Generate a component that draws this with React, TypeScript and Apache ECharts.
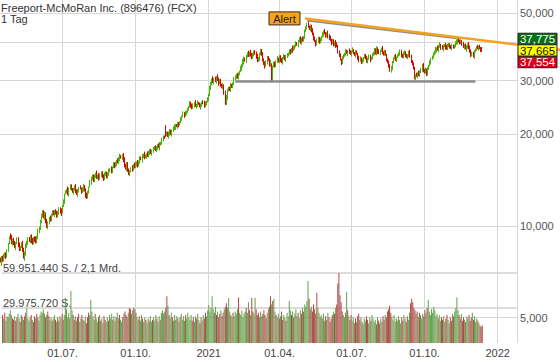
import React, { useEffect, useRef } from 'react';
import * as echarts from 'echarts';

// ---------- data ----------
const chartTitle = 'Freeport-McMoRan Inc. (896476) (FCX)';
const periodLabel = '1 Tag';
const startDate = '2020-04-14';
const categoryCount = 467; // weekdays shown on the time axis (data + empty space up to late Jan 2022)

const opens = [
  7.80, 7.55, 7.95, 7.75, 7.90, 8.15, 7.95, 8.30, 8.75, 9.40, 9.30, 8.70,
  9.05, 8.80, 8.50, 8.75, 9.10, 8.70, 8.35, 8.50, 8.80, 8.40, 7.80, 8.15,
  8.55, 8.80, 9.15, 8.85, 9.25, 9.05, 8.75, 9.20, 9.10, 8.80,
  9.25, 9.55, 9.85, 10.25, 10.80, 11.20, 10.60,
  11.00, 10.45, 9.85, 10.15, 10.75,
  10.45, 10.85, 11.15, 10.85, 11.30, 11.05, 10.70, 11.05, 11.45, 11.25, 11.05,
  11.65, 12.05, 12.75,
  12.85, 13.20, 12.75, 13.25, 13.55, 13.25, 12.85, 13.10, 13.45, 13.05, 12.70, 13.00, 13.45, 13.30, 12.90, 13.15, 13.50, 13.15, 12.80, 12.35,
  12.90, 13.45, 13.85, 14.25, 14.70, 14.15, 14.45, 14.90, 14.35,
  14.75, 14.25, 14.70, 15.05, 14.55, 14.30, 14.65, 15.00, 14.50,
  14.90, 15.15, 15.45, 15.05, 15.55, 16.00, 15.65, 16.05, 16.50, 16.15, 16.55, 17.00, 16.65,
  17.20, 16.55, 15.90, 15.35, 15.95, 15.30,
  14.70, 15.05, 15.60, 15.25, 15.90, 15.55, 15.90, 16.30,
  15.80, 16.25, 16.80, 16.45, 16.85, 17.20, 16.75,
  16.95, 17.30, 16.95, 17.35, 17.80, 17.25, 17.55, 17.85, 18.30, 17.75, 17.95, 18.50, 18.05, 18.45,
  18.75, 19.15, 19.70, 21.10, 19.85, 20.30, 19.75, 20.05, 20.50, 19.95, 20.55,
  20.85, 21.05, 21.50, 21.15, 21.70,
  21.45, 21.95, 22.35, 22.85, 23.40, 22.95, 23.45, 23.75,
  24.15, 24.55, 25.30, 24.85, 24.45, 24.95, 25.50, 24.65, 24.85, 25.40, 25.15, 24.55, 24.85, 25.60, 25.25, 24.75, 25.25,
  25.55, 26.15, 26.95, 28.35, 29.25, 30.40,
  29.55, 30.60, 29.75, 31.00, 30.25, 29.35, 30.10, 29.15, 28.55,
  29.00, 27.40, 25.10, 26.35, 27.75,
  28.50, 27.95, 28.95, 28.45,
  29.25, 30.15, 30.75, 31.50, 30.85, 31.55, 32.15,
  32.95, 33.75, 34.55, 35.50, 34.75, 36.05, 36.90, 36.15, 37.30,
  36.60, 35.55, 36.35, 37.60, 36.85, 36.00, 34.75, 35.45, 36.85,
  37.70, 36.50, 35.30, 34.20, 33.45, 34.55, 35.90, 35.00, 33.75,
  33.50, 30.20,
  33.35, 34.30, 33.55, 34.75, 35.50, 34.55, 36.00, 35.25, 34.35, 35.55, 36.20, 35.25, 35.75,
  36.35, 36.85, 37.70, 37.05, 38.30, 37.75,
  38.45, 38.95, 39.90, 39.15, 40.35, 41.10, 40.15, 41.40, 40.65,
  41.75, 43.45, 44.75, 46.20, 45.20, 44.15, 45.50, 43.70,
  42.50, 41.30, 40.50, 39.55, 40.75, 41.50, 40.15,
  40.85, 41.75, 42.55, 43.50, 42.90, 42.05, 43.10,
  41.95, 41.30, 40.70, 39.75, 40.60, 39.35, 40.20, 39.30,
  38.90, 37.50, 36.30, 35.20, 34.35, 35.75,
  36.25, 36.75, 37.50, 36.85, 37.70, 37.15, 36.55, 37.25, 37.90, 37.05, 36.45, 37.30,
  36.80, 35.70, 34.75, 35.40, 34.45, 35.05,
  35.65, 36.30, 35.50, 34.65, 35.45, 36.10, 35.15, 35.75,
  36.35, 37.05, 37.90, 36.85, 38.40, 37.45, 36.75, 37.45, 38.20, 37.25, 36.55, 37.40,
  36.50, 35.30, 34.60, 33.30, 32.35,
  33.10, 34.55, 35.35, 36.00, 35.25, 35.75,
  36.15, 36.75, 37.50, 36.55, 35.85, 36.55, 37.30, 36.35, 35.65, 36.35, 37.10,
  36.30, 34.70, 33.90,
  33.00, 30.55, 31.40, 30.95, 31.70, 31.15,
  32.05, 32.75, 33.60, 32.45, 31.75, 32.70, 31.45, 32.85,
  33.55, 34.35, 35.25, 35.85, 36.65, 37.35,
  37.85, 38.50, 37.75, 38.85, 39.40, 38.65, 38.05, 38.75, 39.50, 38.75, 38.15, 38.85, 39.60, 38.85, 38.25, 39.20, 38.55, 39.15,
  39.55, 40.25, 41.30, 40.70, 39.75,
  40.50, 39.45, 38.55, 39.30, 38.05, 38.75, 39.60,
  38.50, 37.25, 36.35, 37.10, 36.05, 37.35,
  37.95, 38.70, 38.15, 38.95, 38.45, 38.10,
];

const closes = [
  7.62, 7.85, 7.70, 7.95, 8.10, 7.90, 8.25, 8.70, 9.05, 9.20, 8.85, 8.95,
  8.70, 8.55, 8.80, 9.00, 8.65, 8.40, 8.55, 8.75, 8.30, 7.85, 8.20, 8.60,
  8.85, 9.05, 8.90, 9.15, 8.95, 8.80, 9.10, 9.00, 8.85, 9.20,
  9.60, 9.90, 10.30, 10.85, 11.10, 10.70, 10.95,
  10.40, 9.90, 10.20, 10.60, 10.50,
  10.80, 11.05, 10.90, 11.20, 11.00, 10.75, 11.10, 11.30, 11.15, 11.00, 11.60,
  12.10, 12.70, 12.90,
  13.10, 12.80, 13.30, 13.50, 13.20, 12.90, 13.15, 13.40, 13.00, 12.75, 13.05, 13.35, 13.25, 12.95, 13.20, 13.45, 13.10, 12.60, 12.40, 12.85,
  13.40, 13.90, 14.30, 14.60, 14.20, 14.50, 14.80, 14.40, 14.65,
  14.30, 14.75, 14.95, 14.50, 14.35, 14.70, 14.90, 14.55, 14.85,
  15.20, 15.40, 15.10, 15.60, 15.90, 15.70, 16.10, 16.40, 16.20, 16.60, 16.90, 16.70, 17.10,
  16.50, 15.80, 15.40, 15.90, 15.20, 14.75,
  15.10, 15.50, 15.30, 15.80, 15.60, 15.95, 16.20, 15.85,
  16.30, 16.70, 16.50, 16.90, 17.10, 16.80, 17.00,
  17.20, 17.00, 17.40, 17.70, 17.30, 17.60, 17.90, 18.20, 17.80, 18.00, 18.40, 18.10, 18.50, 18.80,
  19.20, 19.60, 19.40, 19.90, 20.20, 19.80, 20.10, 20.40, 20.00, 20.60, 20.90,
  21.10, 21.40, 21.20, 21.60, 21.50,
  22.00, 22.40, 22.90, 23.30, 23.00, 23.50, 23.80, 24.20,
  24.60, 25.20, 24.80, 24.50, 25.00, 25.40, 24.70, 24.90, 25.30, 25.10, 24.60, 24.90, 25.50, 25.20, 24.80, 25.30, 25.60,
  26.20, 27.00, 28.40, 29.30, 30.20, 29.60,
  30.50, 29.80, 30.90, 30.20, 29.40, 30.00, 29.10, 28.60, 29.20,
  27.50, 25.20, 26.40, 27.80, 28.40,
  28.00, 28.90, 28.50, 29.30,
  30.20, 30.80, 31.40, 30.90, 31.60, 32.20, 33.00,
  33.80, 34.60, 35.40, 34.80, 36.10, 36.80, 36.20, 37.20, 36.50,
  35.60, 36.40, 37.50, 36.80, 35.90, 34.80, 35.50, 36.90, 37.60,
  36.40, 35.20, 34.10, 33.50, 34.60, 35.80, 34.90, 33.80, 34.50,
  30.00, 33.40,
  34.20, 33.60, 34.80, 35.40, 34.60, 35.90, 35.20, 34.40, 35.60, 36.10, 35.30, 35.80, 36.40,
  36.90, 37.60, 37.10, 38.20, 37.80, 38.50,
  39.00, 39.80, 39.20, 40.40, 41.00, 40.20, 41.30, 40.70, 41.80,
  43.50, 44.80, 46.00, 45.10, 44.20, 45.40, 43.60, 42.40,
  41.20, 40.40, 39.60, 40.80, 41.40, 40.20, 40.90,
  41.80, 42.60, 43.40, 42.80, 42.10, 43.00, 41.90,
  41.20, 40.60, 39.80, 40.50, 39.40, 40.10, 39.20, 38.80,
  37.40, 36.20, 35.10, 34.40, 35.80, 36.30,
  36.80, 37.40, 36.90, 37.60, 37.10, 36.60, 37.30, 37.80, 37.00, 36.50, 37.20, 36.70,
  35.60, 34.80, 35.30, 34.50, 35.10, 35.70,
  36.20, 35.40, 34.70, 35.50, 36.00, 35.20, 35.80, 36.40,
  37.10, 37.80, 36.90, 38.30, 37.40, 36.80, 37.50, 38.10, 37.20, 36.60, 37.30, 36.40,
  35.20, 34.50, 33.20, 32.40, 33.00,
  34.60, 35.40, 35.90, 35.30, 35.80, 36.20,
  36.80, 37.40, 36.50, 35.90, 36.60, 37.20, 36.30, 35.70, 36.40, 37.00, 36.20,
  34.60, 33.80, 33.10,
  30.60, 31.30, 31.00, 31.60, 31.20, 32.10,
  32.80, 33.50, 32.40, 31.80, 32.60, 31.50, 32.90, 33.60,
  34.40, 35.30, 35.90, 36.70, 37.40, 37.90,
  38.40, 37.80, 38.90, 39.30, 38.60, 38.10, 38.80, 39.40, 38.70, 38.20, 38.90, 39.50, 38.80, 38.30, 39.10, 38.60, 39.20, 39.60,
  40.30, 41.20, 40.60, 39.80, 40.40,
  39.40, 38.60, 39.20, 38.10, 38.80, 39.50, 38.40,
  37.20, 36.40, 37.00, 36.10, 37.40, 38.00,
  38.60, 38.20, 38.90, 38.40, 38.00, 37.665,
];

// upper / lower wick length per day, one digit per day, unit = 0.5 % of the body edge
const wickUpCodes =
  '2314213241' + '1323142312' + '3214231432' + '2132413231' + '4123213421' +
  '1324132213' + '2413213342' + '3121342213' + '1432132412' + '2213431231' +
  '3142212341' + '1231432213' + '2341213142' + '4213321231' + '1322413213' +
  '2134213421' + '3213142312' + '1423213241' + '2312431213' + '3241213322' +
  '1213432142' + '2431221314' + '3122413231' + '1342132413' + '2213341221' +
  '4132213143' + '1221432312' + '3412132241' + '2143312213' + '1324213342' +
  '3213421312' + '2142133241' + '1321342213' + '2413213132' + '3132241321' +
  '1243123412' + '2321431213' + '4123213242' + '1342312132' + '2214132413' +
  '3123421231' + '1432213142' + '2213342121' + '231213';
const wickDownCodes =
  '1423132214' + '3212413321' + '2134231243' + '1321423132' + '3412132213' +
  '2213341241' + '1342213132' + '4213132421' + '2132431213' + '1324213342' +
  '3213142231' + '2431321213' + '1213423142' + '3142231321' + '2321413213' +
  '1243132241' + '3412213132' + '2133241321' + '1421323142' + '3213132413' +
  '2342131231' + '1213342143' + '4132213212' + '2321431324' + '1413223132' +
  '3124132241' + '2231413213' + '1342231321' + '3213142432' + '2141323213' +
  '1324132142' + '3231421312' + '2413213231' + '1232413142' + '3412132213' +
  '2123421341' + '1342213123' + '3213241312' + '2431132213' + '1223413241' +
  '3142213132' + '2314321213' + '1432132241' + '213242';

// volume in millions of shares
const volumes = [
  24, 21, 26, 19, 23, 22, 25, 28, 24, 21,
  20, 23, 19, 22, 25, 21, 18, 24, 22, 20,
  23, 26, 30, 21, 19, 22, 24, 20, 18, 23,
  21, 25, 22, 19, 24, 27, 26, 29, 25, 22,
  24, 27, 23, 20, 22, 19, 21, 24, 20, 18,
  22, 19, 23, 21, 25, 20, 24, 38.5, 29, 22,
  26, 21, 44.5, 28, 24, 20, 23, 19, 22, 25,
  18, 21, 24, 20, 19, 23, 17, 22, 26, 24,
  37, 27, 23, 20, 25, 21, 18, 22, 24, 19,
  21, 17, 23, 20, 18, 22, 19, 24, 21, 25,
  20, 23, 19, 22, 26, 21, 24, 20, 18, 22,
  25, 27, 24, 22, 26, 30, 29, 25, 28, 30,
  29, 26, 22, 20, 23, 19, 24, 21, 18, 22,
  20, 17, 21, 19, 23, 18, 20, 22, 19, 24,
  21, 18, 23, 20, 26, 28, 25, 27, 30, 40,
  32, 24, 21, 26, 22, 19, 24, 20, 23, 21,
  18, 22, 25, 20, 23, 19, 24, 21, 26, 22,
  20, 24, 19, 22, 18, 23, 21, 25, 20, 17,
  22, 19, 24, 21, 26, 23, 28, 32.5, 27, 30,
  40, 29, 26, 31, 24, 27, 22, 25, 28, 23,
  26, 29, 31, 34, 30, 38.5, 27, 24, 22, 26,
  23, 27, 25, 29, 39, 26, 24, 28, 22, 25,
  27, 30, 26, 35, 28, 24, 38.5, 27, 25, 38.5,
  29, 24, 26, 22, 27, 23, 25, 28, 24, 21,
  26, 29, 31, 40, 33, 36, 38, 27, 24, 22,
  25, 21, 23, 27, 20, 24, 22, 19, 26, 23,
  36, 28, 24, 27, 22, 25, 29, 23, 26, 21,
  28, 25, 30, 27, 33, 31, 36, 53, 38, 29,
  31, 27, 33, 29, 25, 43, 30, 26, 22, 24,
  21, 25, 19, 23, 20, 26, 22, 18, 21, 24,
  27, 25, 30, 33, 51, 59.95144, 41, 35, 27, 24,
  22, 26, 44, 28, 23, 20, 24, 19, 22, 17,
  21, 18, 23, 25, 20, 22, 18, 16, 21, 19,
  23, 20, 17, 22, 19, 24, 21, 18, 20, 16,
  22, 19, 17, 21, 18, 23, 20, 24, 22, 27,
  29, 32, 26, 23, 20, 24, 18, 21, 19, 23,
  20, 17, 22, 19, 24, 21, 18, 23, 20, 26,
  34, 38, 35, 30, 28, 25, 27, 22, 26, 24,
  21, 25, 23, 28, 26, 30, 37, 27, 24, 29,
  26, 31, 28, 23, 25, 21, 24, 19, 22, 20,
  23, 18, 21, 24, 20, 17, 22, 19, 25, 23,
  27, 30, 39, 28, 24, 21, 25, 19, 22, 20,
  18, 23, 21, 24, 19, 22, 26, 20, 23, 18,
  21, 19, 17, 15, 14, 15,
];

const priceLabelValues = [5, 10, 20, 30, 50];
const priceGridValues = [5, 10, 20, 30, 40, 50];
const priceAxisMin = 4.127;
const priceAxisMax = 55.16;
const volumeAxisMax = 59.95144; // millions
const volumeTotalText = '2,1 Mrd.';

const quoteAsk = 37.775;
const quoteLast = 37.665;
const quoteBid = 37.554;

// trend lines: [category index, price]
const supportLine = [[212, 29.8], [429, 29.8]];
const resistanceLine = [[277, 47.2], [412, 41.3]];
const alertLine = [[275, 48.0], [430, 40.9]];
const alertText = 'Alert';

// ---------- helpers ----------
const FONT = '"Liberation Sans", Arial, Helvetica, sans-serif';
const L = (v: number) => Math.log10(v);
const UP = '#43b600';
const DOWN = '#e00000';
const VOL_UP = '#62a04b';
const VOL_DOWN = '#ad4846';
const GRID = '#d7d7d7';

function weekdays(start: string, n: number): string[] {
  const out: string[] = [];
  const d = new Date(start + 'T00:00:00Z');
  while (out.length < n) {
    const wd = d.getUTCDay();
    if (wd !== 0 && wd !== 6) out.push(d.toISOString().slice(0, 10));
    d.setUTCDate(d.getUTCDate() + 1);
  }
  return out;
}

const fmtPrice = (v: number) => v.toFixed(3).replace('.', ',');
const fmtShares = (m: number) =>
  String(Math.round(m * 1e6)).replace(/\B(?=(\d{3})+(?!\d))/g, '.');

export default function App() {
  const ref = useRef<HTMLDivElement>(null);

  useEffect(() => {
    if (!ref.current) return;
    const chart = echarts.init(ref.current, undefined, { renderer: 'svg' });

    const dates = weekdays(startDate, categoryCount);
    const quarterIdx = new Set<number>();
    dates.forEach((s, i) => {
      if (i === 0) return;
      const m = +s.slice(5, 7);
      if (s.slice(5, 7) !== dates[i - 1].slice(5, 7) && (m - 1) % 3 === 0) quarterIdx.add(i);
    });
    const isQ = (i: number) => quarterIdx.has(i);

    const candles = closes.map((c, i) => {
      const o = opens[i];
      const up = (+wickUpCodes[i] || 0) * 0.005;
      const dn = (+wickDownCodes[i] || 0) * 0.005;
      const lo = Math.min(o, c) * (1 - dn);
      const hi = Math.max(o, c) * (1 + up);
      return [L(o), L(c), L(lo), L(hi)];
    });
    const volData = volumes.map((v, i) => ({
      value: v,
      itemStyle: { color: closes[i] >= opens[i] ? VOL_UP : VOL_DOWN },
    }));

    const option: any = {
      animation: false,
      title: {
        text: chartTitle,
        subtext: periodLabel,
        left: 0,
        top: 0,
        padding: [2, 1],
        itemGap: 0,
        textStyle: { fontSize: 11, lineHeight: 11, fontWeight: 'normal', color: '#333', fontFamily: FONT },
        subtextStyle: { fontSize: 11, lineHeight: 11, color: '#333', fontFamily: FONT },
      },
      grid: [
        { left: 0, right: 43, top: 0, bottom: 19 },
        { left: 0, right: 43, top: 273, bottom: 19 },
      ],
      xAxis: [
        {
          type: 'category',
          gridIndex: 0,
          data: dates,
          boundaryGap: true,
          axisLine: { show: false },
          axisTick: { show: false },
          axisLabel: {
            interval: (i: number) => isQ(i),
            formatter: (v: string) => {
              const [y, m, d] = v.split('-');
              return m === '01' ? y : `${d}.${m}.`;
            },
            fontSize: 11,
            color: '#444',
            margin: 4,
            fontFamily: FONT,
          },
          splitLine: { show: true, interval: (i: number) => isQ(i), lineStyle: { color: GRID, width: 1 } },
        },
        { type: 'category', gridIndex: 1, data: dates, show: false, boundaryGap: true },
      ],
      yAxis: [
        {
          type: 'value',
          gridIndex: 0,
          position: 'right',
          min: L(priceAxisMin),
          max: L(priceAxisMax),
          axisLine: { show: false },
          axisTick: { show: false, customValues: priceGridValues.map(L) },
          axisLabel: {
            customValues: priceLabelValues.map(L),
            formatter: (v: number) => fmtPrice(Math.pow(10, v)),
            fontSize: 11,
            color: '#555',
            margin: 3,
            fontFamily: FONT,
          },
          splitLine: { show: true, lineStyle: { color: GRID, width: 1 } },
        },
        {
          type: 'value',
          gridIndex: 1,
          position: 'left',
          min: 0,
          max: volumeAxisMax,
          axisLine: { show: false },
          axisTick: { show: false, customValues: [volumeAxisMax / 2, volumeAxisMax] },
          axisLabel: {
            inside: true,
            customValues: [volumeAxisMax / 2, volumeAxisMax],
            verticalAlign: 'bottom',
            align: 'left',
            margin: 1,
            fontSize: 11,
            color: '#444',
            fontFamily: FONT,
            formatter: (v: number) =>
              v > volumeAxisMax * 0.75
                ? `${fmtShares(v)} S. / ${volumeTotalText}`
                : `${fmtShares(v)} S.`,
          },
          splitLine: { show: true, lineStyle: { color: '#dcdcdc', width: 2 } },
        },
      ],
      series: [
        {
          type: 'bar',
          xAxisIndex: 1,
          yAxisIndex: 1,
          data: volData,
          barWidth: '75%',
          z: 2,
        },
        {
          type: 'candlestick',
          xAxisIndex: 0,
          yAxisIndex: 0,
          data: candles,
          barWidth: 1,
          itemStyle: {
            color: UP,
            color0: DOWN,
            borderColor: UP,
            borderColor0: DOWN,
            borderWidth: 1,
          },
          z: 3,
        },
        {
          type: 'line',
          xAxisIndex: 0,
          yAxisIndex: 0,
          data: supportLine.map(([i, p]) => [i, L(p)]),
          symbol: 'none',
          lineStyle: { color: '#8d8d8d', width: 2.5 },
          z: 4,
        },
        {
          type: 'line',
          xAxisIndex: 0,
          yAxisIndex: 0,
          data: resistanceLine.map(([i, p]) => [i, L(p)]),
          symbol: 'none',
          lineStyle: { color: '#8d8d8d', width: 2 },
          z: 4,
        },
      ],
    };

    chart.setOption(option);

    const toPx = (i: number, p: number) =>
      chart.convertToPixel({ xAxisIndex: 0, yAxisIndex: 0 }, [i, L(p)]) as number[];
    const a = toPx(alertLine[0][0], alertLine[0][1]);
    const b = toPx(alertLine[1][0], alertLine[1][1]);
    const xEnd = chart.getWidth();
    const yEnd = a[1] + ((b[1] - a[1]) * (xEnd - a[0])) / (b[0] - a[0]);
    const lastY = toPx(0, quoteLast)[1];
    const boxX = chart.getWidth() - 43 + 1;
    const boxW = 39;
    const boxH = 11.5;
    const yTop = lastY - boxH / 2;

    const priceBox = (y: number, fill: string, textColor: string, value: number) => ({
      type: 'group',
      x: boxX,
      y,
      z: 20,
      children: [
        {
          type: 'rect',
          z: 20,
          shape: { x: 0, y: 0, width: boxW, height: boxH },
          style: { fill, stroke: '#222', lineWidth: 1 },
        },
        {
          type: 'text',
          z: 21,
          x: boxW / 2,
          y: boxH / 2 + 0.5,
          style: {
            text: fmtPrice(value),
            fill: textColor,
            font: `11.5px ${FONT}`,
            lineHeight: 10,
            align: 'center',
            verticalAlign: 'middle',
          },
        },
      ],
    });

    chart.setOption({
      graphic: [
        {
          type: 'line',
          z: 10,
          shape: { x1: a[0], y1: a[1], x2: xEnd, y2: yEnd },
          style: { stroke: '#f5a31e', lineWidth: 2.5 },
        },
        {
          type: 'group',
          x: a[0] - 36,
          y: a[1] - 6.5,
          z: 11,
          children: [
            {
              type: 'rect',
              z: 11,
              shape: { x: 0, y: 0, width: 31, height: 13 },
              style: { fill: '#f7a21b', stroke: '#3a2a10', lineWidth: 1 },
            },
            {
              type: 'text',
              z: 12,
              x: 15.5,
              y: 7,
              style: { text: alertText, fill: '#222', font: `11px ${FONT}`, align: 'center', verticalAlign: 'middle' },
            },
          ],
        },
        priceBox(yTop - boxH, '#0f6e10', '#fff', quoteAsk),
        priceBox(yTop, '#ffff00', '#111', quoteLast),
        priceBox(yTop + boxH, '#d9001b', '#fff', quoteBid),
      ],
    });

    return () => chart.dispose();
  }, []);

  return (
    <div
      ref={ref}
      style={{ position: 'fixed', left: 0, top: 0, width: 560, height: 362, background: '#fff' }}
    />
  );
}
